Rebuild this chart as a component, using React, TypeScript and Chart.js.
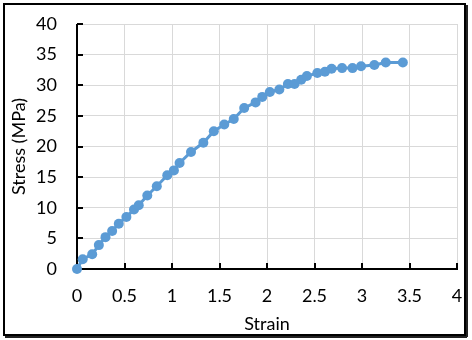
import React, { useEffect, useRef } from "react";
import { Chart, registerables } from "chart.js";

Chart.register(...registerables);

const strain = [0, 0.06, 0.16, 0.23, 0.30, 0.37, 0.44, 0.52, 0.60, 0.65, 0.74, 0.84, 0.95, 1.02, 1.08, 1.20, 1.33, 1.44, 1.55, 1.65, 1.76, 1.88, 1.95, 2.03, 2.13, 2.22, 2.29, 2.36, 2.42, 2.53, 2.61, 2.68, 2.79, 2.90, 2.99, 3.13, 3.25, 3.43];
const stress = [0, 1.6, 2.4, 3.9, 5.2, 6.2, 7.4, 8.5, 9.7, 10.4, 12.0, 13.5, 15.3, 16.1, 17.3, 19.1, 20.6, 22.5, 23.6, 24.5, 26.3, 27.2, 28.1, 28.9, 29.3, 30.2, 30.2, 30.9, 31.5, 32.0, 32.2, 32.7, 32.8, 32.8, 33.1, 33.3, 33.7, 33.7];

const xMin = 0, xMax = 4, xStep = 0.5;
const yMin = 0, yMax = 40, yStep = 5;
const xTitle = "Strain";
const yTitle = "Stress (MPa)";

const FONT = "Lato, 'Open Sans', sans-serif";
const FSIZE = 18;

const axesPlugin = {
  id: "excelAxes",
  beforeDraw(chart: any) {
    const { ctx, width, height } = chart;
    ctx.save();
    ctx.fillStyle = "#ffffff";
    ctx.fillRect(0, 0, width, height);
    ctx.restore();
  },
  beforeDatasetsDraw(chart: any) {
    const { ctx, chartArea, scales } = chart;
    const x = scales.x, y = scales.y;
    ctx.save();
    ctx.strokeStyle = "#000000";
    ctx.lineWidth = 2;
    ctx.lineCap = "butt";
    ctx.beginPath();
    ctx.moveTo(chartArea.left, chartArea.top);
    ctx.lineTo(chartArea.left, chartArea.bottom + 1);
    ctx.moveTo(chartArea.left - 1, chartArea.bottom);
    ctx.lineTo(chartArea.right + 1, chartArea.bottom);
    x.ticks.forEach((t: any) => {
      const px = Math.round(x.getPixelForValue(t.value));
      ctx.moveTo(px, chartArea.bottom);
      ctx.lineTo(px, chartArea.bottom - 6);
    });
    y.ticks.forEach((t: any) => {
      const py = Math.round(y.getPixelForValue(t.value));
      ctx.moveTo(chartArea.left, py);
      ctx.lineTo(chartArea.left + 6, py);
    });
    ctx.stroke();
    ctx.restore();
  },
  afterDraw(chart: any) {
    const { ctx } = chart;
    ctx.save();
    ctx.strokeStyle = "#000000";
    ctx.lineWidth = 2;
    ctx.strokeRect(4, 4, 461, 331);
    ctx.strokeStyle = "#222222";
    ctx.beginPath();
    ctx.moveTo(467, 5);
    ctx.lineTo(467, 337);
    ctx.moveTo(5, 337);
    ctx.lineTo(467, 337);
    ctx.stroke();
    ctx.restore();
  },
};

export default function App() {
  const ref = useRef<HTMLCanvasElement | null>(null);
  useEffect(() => {
    document.body.style.margin = "0";
    const canvas = ref.current!;
    const data = strain.map((s, i) => ({ x: s, y: stress[i] }));
    const chart = new Chart(canvas, {
      type: "scatter",
      data: {
        datasets: [
          {
            data,
            showLine: true,
            clip: false,
            borderColor: "#5B9BD5",
            backgroundColor: "#5B9BD5",
            borderWidth: 3,
            pointRadius: 5,
            pointHoverRadius: 5,
            pointBorderWidth: 0,
          },
        ],
      },
      options: {
        animation: false,
        responsive: false,
        devicePixelRatio: 1,
        layout: { autoPadding: false, padding: { left: 0, top: 24, right: 15, bottom: 0 } },
        plugins: { legend: { display: false }, tooltip: { enabled: false } },
        scales: {
          x: {
            type: "linear",
            min: xMin,
            max: xMax,
            ticks: {
              stepSize: xStep,
              color: "#000000",
              padding: 16,
              maxRotation: 0,
              font: { family: FONT, size: FSIZE },
              callback: (v: any) => String(Number(v)),
            },
            grid: { color: "#D9D9D9", lineWidth: 1, drawTicks: false },
            border: { display: false },
            title: {
              display: true,
              text: xTitle,
              color: "#000000",
              font: { family: FONT, size: FSIZE },
              padding: { top: 0, bottom: 5 },
            },
            afterFit(scale: any) {
              scale.height = 71;
              scale.paddingLeft = 0;
              scale.paddingRight = 0;
            },
          },
          y: {
            type: "linear",
            min: yMin,
            max: yMax,
            ticks: {
              stepSize: yStep,
              color: "#000000",
              padding: 20,
              font: { family: FONT, size: FSIZE },
              callback: (v: any) => String(Number(v)),
            },
            grid: { color: "#D9D9D9", lineWidth: 1, drawTicks: false },
            border: { display: false },
            title: {
              display: true,
              text: yTitle,
              color: "#000000",
              font: { family: FONT, size: FSIZE },
              padding: { top: 8, bottom: 0 },
            },
            afterFit(scale: any) {
              scale.width = 77;
              scale.paddingTop = 0;
              scale.paddingBottom = 0;
            },
          },
        },
      },
      plugins: [axesPlugin],
    });
    return () => chart.destroy();
  }, []);
  return <canvas ref={ref} width={472} height={340} style={{ display: "block" }} />;
}
